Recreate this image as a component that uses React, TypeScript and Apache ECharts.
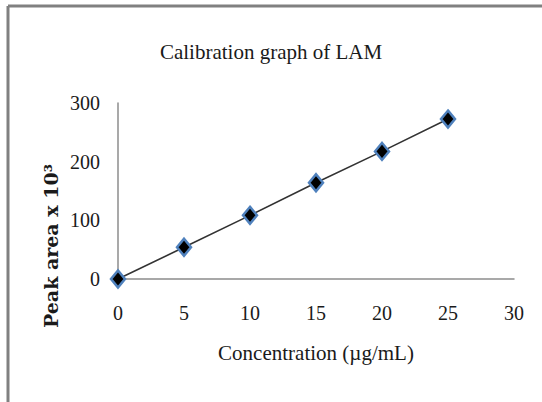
import React, { useEffect, useRef } from "react";
import * as echarts from "echarts";

const concentrations = [0, 5, 10, 15, 20, 25];
const peakAreas = [0, 54, 108.5, 164, 217.5, 272.6];
const xTicks = [0, 5, 10, 15, 20, 25, 30];
const yTicks = [0, 100, 200, 300];
const titleText = "Calibration graph of LAM";
const xName = "Concentration (µg/mL)";
const yName = "Peak area x 10³";

export default function App() {
  const ref = useRef<HTMLDivElement>(null);
  useEffect(() => {
    if (!ref.current) return;
    const chart = echarts.init(ref.current, null, { renderer: "svg" });
    const serif = "'Liberation Serif', 'Times New Roman', serif";
    chart.setOption({
      animation: false,
      backgroundColor: "#ffffff",
      title: {
        text: titleText,
        left: "center",
        top: 36,
        textStyle: { fontFamily: serif, fontSize: 21, fontWeight: "normal", color: "#1a1a1a" },
      },
      grid: { left: 118, right: 28, top: 103, bottom: 123 },
      xAxis: {
        type: "value",
        min: xTicks[0],
        max: xTicks[xTicks.length - 1],
        interval: 5,
        name: xName,
        nameLocation: "middle",
        nameGap: 63,
        nameTextStyle: { fontFamily: serif, fontSize: 21, color: "#1a1a1a" },
        axisLine: { show: true, lineStyle: { color: "#8c8c8c", width: 1.5 } },
        axisTick: { show: false },
        splitLine: { show: false },
        axisLabel: { margin: 24, fontFamily: serif, fontSize: 20, color: "#1a1a1a" },
      },
      yAxis: {
        type: "value",
        min: yTicks[0],
        max: yTicks[yTicks.length - 1],
        interval: 100,
        axisLine: { show: true, lineStyle: { color: "#8c8c8c", width: 1.5 } },
        axisTick: { show: false },
        splitLine: { show: false },
        axisLabel: { margin: 18, fontFamily: serif, fontSize: 20, color: "#1a1a1a" },
      },
      graphic: [
        { type: "line", shape: { x1: 8, y1: 6, x2: 542, y2: 6 }, style: { stroke: "#808080", lineWidth: 3 } },
        { type: "line", shape: { x1: 8, y1: 6, x2: 8, y2: 402 }, style: { stroke: "#808080", lineWidth: 3 } },
        {
          type: "text",
          x: 51,
          y: 246,
          rotation: Math.PI / 2,
          style: {
            text: yName,
            fontFamily: "'DejaVu Serif', serif",
            fontWeight: "bold",
            fontSize: 19,
            fill: "#1a1a1a",
            align: "center",
            verticalAlign: "middle",
          },
        },
      ],
      series: [
        {
          type: "line",
          data: concentrations.map((c, i) => [c, peakAreas[i]]),
          symbol: "diamond",
          symbolSize: [14, 17],
          itemStyle: { color: "#000000", borderColor: "#4f81bd", borderWidth: 2.5 },
          lineStyle: { color: "#333333", width: 1.6 },
        },
      ],
    });
    return () => chart.dispose();
  }, []);
  return (
    <div
      ref={ref}
      style={{ position: "fixed", left: 0, top: 0, width: 542, height: 402, background: "#fff" }}
    />
  );
}
